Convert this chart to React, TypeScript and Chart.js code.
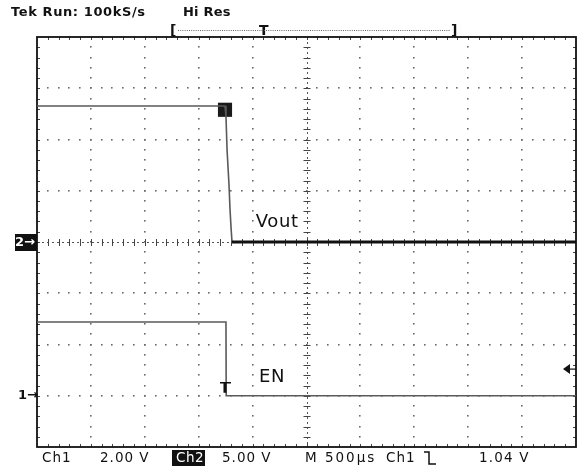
import React, { useEffect, useRef } from "react";
import { Chart, registerables } from "chart.js";

Chart.register(...registerables);

// Time base: M 500µs/div, 10 divisions on screen (µs from left edge)
const TIME_PER_DIV = 500;
const H_DIVS = 10;
const V_DIVS = 8;

// Ch1 (EN): 2.00 V/div, ground marker "1→" three divisions below centre
const CH1_MIN = -2;
const CH1_MAX = 14;
// Ch2 (Vout): 5.00 V/div, ground marker "2→" at centre
const CH2_VOLTS_PER_DIV = 5;
const CH2_MIN = -20;
const CH2_MAX = 20;

// EN trace (Ch1)
const EN_TIME = [0, 1753, 1755, 5000];
const EN_VOLTS = [2.88, 2.88, 0, 0];

// Vout trace (Ch2)
const VOUT_TIME = [0, 1744, 1753, 1763, 1781, 1790, 1800, 1809, 5000];
const VOUT_VOLTS = [13.27, 13.27, 12.3, 9.0, 5.6, 3.3, 1.4, 0, 0];

// Black square on the Vout edge
const VOUT_MARK_TIME = [1744];
const VOUT_MARK_VOLTS = [12.9];

// Trigger
const TRIGGER_TIME = 1753;
const TRIGGER_LEVEL = 1.04;

// Readout texts
const TOP_LEFT = "Tek Run: 100kS/s";
const TOP_MODE = "Hi Res";
const BOTTOM_TEXTS = ["Ch1", "2.00 V", "Ch2", "5.00 V", "M 500µs", "Ch1", "1.04 V"];

const FONT = '"DejaVu Sans", sans-serif';
const AREA = { left: 37, top: 37, right: 576, bottom: 447 };

const graticulePlugin = {
  id: "graticule",
  beforeDatasetsDraw(chart: any) {
    const ctx = chart.ctx as CanvasRenderingContext2D;
    const xs = chart.scales.x;
    const ys = chart.scales.y2;
    const { left, right, top, bottom } = chart.chartArea;
    const xAt = (d: number) => xs.getPixelForValue(d * TIME_PER_DIV);
    const yAt = (d: number) => ys.getPixelForValue(CH2_MIN + d * CH2_VOLTS_PER_DIV);
    const cx = xAt(H_DIVS / 2);
    const cy = yAt(V_DIVS / 2);
    ctx.save();
    ctx.fillStyle = "#6a6a6a";
    for (let i = 1; i < H_DIVS; i++) {
      if (i === H_DIVS / 2) continue;
      const x = xAt(i);
      for (let k = 1; k < V_DIVS * 5; k++) {
        const y = yAt(k / 5);
        ctx.fillRect(Math.round(x) - 1, Math.round(y) - 1, 1.6, 1.6);
      }
    }
    for (let j = 1; j < V_DIVS; j++) {
      if (j === V_DIVS / 2) continue;
      const y = yAt(j);
      for (let k = 1; k < H_DIVS * 5; k++) {
        const x = xAt(k / 5);
        ctx.fillRect(Math.round(x) - 1, Math.round(y) - 1, 1.6, 1.6);
      }
    }
    ctx.strokeStyle = "#555";
    ctx.lineWidth = 1;
    ctx.setLineDash([2, 3]);
    ctx.beginPath();
    ctx.moveTo(left, Math.round(cy) + 0.5);
    ctx.lineTo(right, Math.round(cy) + 0.5);
    ctx.moveTo(Math.round(cx) + 0.5, top);
    ctx.lineTo(Math.round(cx) + 0.5, bottom);
    ctx.stroke();
    ctx.setLineDash([]);
    ctx.strokeStyle = "#444";
    ctx.beginPath();
    for (let k = 1; k < H_DIVS * 5; k++) {
      const x = Math.round(xAt(k / 5)) + 0.5;
      ctx.moveTo(x, cy - 3);
      ctx.lineTo(x, cy + 4);
      ctx.moveTo(x, top);
      ctx.lineTo(x, top + 3);
      ctx.moveTo(x, bottom);
      ctx.lineTo(x, bottom - 3);
    }
    for (let k = 1; k < V_DIVS * 5; k++) {
      const y = Math.round(yAt(k / 5)) + 0.5;
      ctx.moveTo(cx - 3, y);
      ctx.lineTo(cx + 4, y);
      ctx.moveTo(left, y);
      ctx.lineTo(left + 3, y);
      ctx.moveTo(right, y);
      ctx.lineTo(right - 3, y);
    }
    ctx.stroke();
    ctx.strokeStyle = "#111";
    ctx.lineWidth = 1.8;
    ctx.strokeRect(left, top, right - left, bottom - top);
    ctx.restore();
  },
  afterDraw(chart: any) {
    const ctx = chart.ctx as CanvasRenderingContext2D;
    const xs = chart.scales.x;
    const y1 = chart.scales.y1;
    const y2 = chart.scales.y2;
    const { right } = chart.chartArea;
    ctx.save();
    ctx.fillStyle = "#111";
    ctx.textBaseline = "middle";
    // top readout
    ctx.font = `bold 13px ${FONT}`;
    (ctx as any).letterSpacing = "0.6px";
    ctx.fillText(TOP_LEFT, 11, 13);
    (ctx as any).letterSpacing = "0.2px";
    ctx.fillText(TOP_MODE, 183, 13);
    // record bracket
    (ctx as any).letterSpacing = "0px";
    ctx.font = `bold 14px ${FONT}`;
    ctx.fillText("[", 170, 31);
    ctx.fillText("]", 451, 31);
    ctx.fillText("T", 259, 31);
    ctx.fillStyle = "#666";
    for (let x = 178; x < 450; x += 2.2) ctx.fillRect(x, 30, 1, 1);
    ctx.fillStyle = "#111";
    // bottom readout
    ctx.font = `13.5px ${FONT}`;
    const bx = [42, 100, 176, 222, 305, 386, 479];
    const sp = ["1px", "1px", "0.5px", "1px", "2px", "1px", "1.2px"];
    BOTTOM_TEXTS.forEach((t, i) => {
      (ctx as any).letterSpacing = sp[i];
      if (i === 2) {
        ctx.fillStyle = "#111";
        ctx.fillRect(bx[i] - 4, 450, 33, 16);
        ctx.fillStyle = "#fff";
        ctx.fillText(t, bx[i], 458);
        ctx.fillStyle = "#111";
      } else {
        ctx.fillText(t, bx[i], 458);
      }
    });
    // falling-edge trigger slope symbol
    ctx.strokeStyle = "#111";
    ctx.lineWidth = 1.5;
    ctx.beginPath();
    ctx.moveTo(424, 452);
    ctx.lineTo(429, 452);
    ctx.lineTo(429, 464);
    ctx.lineTo(436, 464);
    ctx.stroke();
    (ctx as any).letterSpacing = "0px";
    // channel ground markers
    const g2 = y2.getPixelForValue(0);
    ctx.fillRect(15, g2 - 8, 22, 17);
    ctx.fillStyle = "#fff";
    ctx.font = `bold 13px ${FONT}`;
    ctx.fillText("2→", 15, g2 + 0.5);
    ctx.fillStyle = "#111";
    const g1 = y1.getPixelForValue(0);
    ctx.fillText("1→", 18, g1);
    // trace labels
    ctx.font = `18px ${FONT}`;
    (ctx as any).letterSpacing = "0.6px";
    ctx.fillText("Vout", xs.getPixelForValue(2030), y2.getPixelForValue(1.9));
    ctx.fillText("EN", xs.getPixelForValue(2060), y1.getPixelForValue(0.7));
    (ctx as any).letterSpacing = "0px";
    // trigger level arrow
    const tl = y1.getPixelForValue(TRIGGER_LEVEL);
    ctx.beginPath();
    ctx.moveTo(right - 13, tl);
    ctx.lineTo(right - 6, tl - 5);
    ctx.lineTo(right - 6, tl + 5);
    ctx.closePath();
    ctx.fill();
    ctx.lineWidth = 1.2;
    ctx.beginPath();
    ctx.moveTo(right - 7, tl);
    ctx.lineTo(right, tl);
    ctx.stroke();
    // trigger point T on EN trace
    const tx = xs.getPixelForValue(TRIGGER_TIME);
    const tBase = g1 - 3;
    ctx.lineWidth = 1.5;
    ctx.beginPath();
    ctx.moveTo(tx - 6, tBase - 10);
    ctx.lineTo(tx + 5, tBase - 10);
    ctx.stroke();
    ctx.fillRect(tx - 2.5, tBase - 10, 3, 10);
    ctx.restore();
  },
};

export default function App() {
  const canvasRef = useRef<HTMLCanvasElement | null>(null);

  useEffect(() => {
    const canvas = canvasRef.current;
    if (!canvas) return;
    const toPts = (t: number[], v: number[]) => t.map((x, i) => ({ x, y: v[i] }));
    const padding = {
      left: AREA.left,
      top: AREA.top,
      right: 579 - AREA.right,
      bottom: 470 - AREA.bottom,
    };
    const chart = new Chart(canvas, {
      type: "line",
      data: {
        datasets: [
          {
            label: "EN",
            data: toPts(EN_TIME, EN_VOLTS),
            yAxisID: "y1",
            borderColor: "#5a5a5a",
            borderWidth: 1.6,
            pointRadius: 0,
            tension: 0,
          },
          {
            label: "Vout",
            data: toPts(VOUT_TIME, VOUT_VOLTS),
            yAxisID: "y2",
            borderColor: "#5a5a5a",
            borderWidth: 1.6,
            pointRadius: 0,
            tension: 0,
            segment: {
              borderColor: (c: any) => (c.p0.parsed.y === 0 && c.p1.parsed.y === 0 ? "#111" : "#5a5a5a"),
              borderWidth: (c: any) => (c.p0.parsed.y === 0 && c.p1.parsed.y === 0 ? 3 : 1.6),
            },
          },
          {
            label: "Vout marker",
            data: toPts(VOUT_MARK_TIME, VOUT_MARK_VOLTS),
            yAxisID: "y2",
            showLine: false,
            pointStyle: "rect",
            pointRadius: 10,
            backgroundColor: "#1a1a1a",
            borderColor: "#1a1a1a",
            borderWidth: 0,
          },
        ],
      },
      options: {
        animation: false,
        responsive: false,
        devicePixelRatio: 1,
        layout: { autoPadding: false, padding },
        plugins: { legend: { display: false }, tooltip: { enabled: false } },
        scales: {
          x: { type: "linear", min: 0, max: TIME_PER_DIV * H_DIVS, display: false },
          y1: { type: "linear", min: CH1_MIN, max: CH1_MAX, display: false },
          y2: { type: "linear", min: CH2_MIN, max: CH2_MAX, display: false },
        },
      },
      plugins: [graticulePlugin],
    });
    // correct any residual layout offset so the graticule lands where the reference has it
    const a = chart.chartArea;
    const dl = a.left - AREA.left;
    const dr = AREA.right - a.right;
    const dt = a.top - AREA.top;
    const db = AREA.bottom - a.bottom;
    if (dl || dr || dt || db) {
      (chart.options as any).layout.padding = {
        left: padding.left - dl,
        right: padding.right - dr,
        top: padding.top - dt,
        bottom: padding.bottom - db,
      };
      chart.update();
    }
    return () => chart.destroy();
  }, []);

  return (
    <div style={{ position: "fixed", left: 0, top: 0, width: 579, height: 470, background: "#fff" }}>
      <canvas ref={canvasRef} width={579} height={470} style={{ width: 579, height: 470 }} />
    </div>
  );
}
